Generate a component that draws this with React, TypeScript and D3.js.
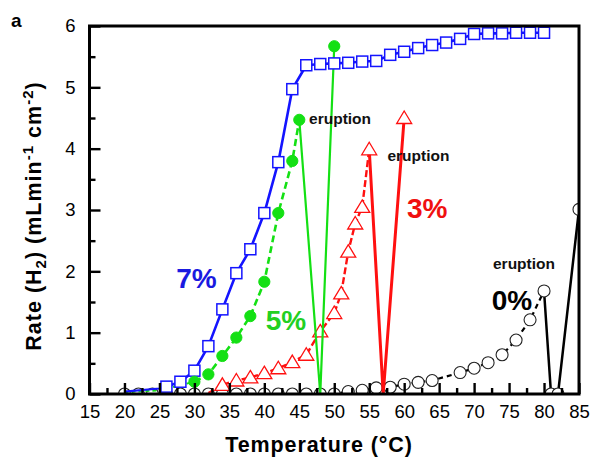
import React, { useEffect, useRef } from "react";
import * as d3 from "d3";

// axis ticks
const tempTicks = [15, 20, 25, 30, 35, 40, 45, 50, 55, 60, 65, 70, 75, 80, 85];
const tempMinor = [17.5, 22.5, 27.5, 32.5, 37.5, 42.5, 47.5, 52.5, 57.5, 62.5, 67.5, 72.5, 77.5, 82.5];
const rateTicks = [0, 1, 2, 3, 4, 5, 6];
const rateMinor = [0.5, 1.5, 2.5, 3.5, 4.5, 5.5];

// 7 % (open squares)
const t7Lead = [20, 25, 26];
const r7Lead = [0.04, 0.09, 0.12];
const t7 = [26, 28, 30, 32, 34, 36, 38, 40, 42, 44, 46, 48, 50, 52, 54, 56, 58, 60, 62, 64, 66, 68, 70, 72, 74, 76, 78, 80];
const r7 = [0.12, 0.2, 0.38, 0.78, 1.38, 1.97, 2.36, 2.95, 3.78, 4.97, 5.36, 5.38, 5.39, 5.4, 5.42, 5.43, 5.53, 5.58, 5.64, 5.69, 5.73, 5.79, 5.87, 5.88, 5.88, 5.89, 5.89, 5.89];

// 5 % (filled circles)
const t5Lead = [20, 25, 30];
const r5Lead = [0.03, 0.06, 0.2];
const t5 = [30, 32, 34, 36, 38, 40, 42, 44, 45];
const r5 = [0.2, 0.32, 0.62, 0.92, 1.27, 1.83, 2.95, 3.8, 4.47];
const t5Jump = [45, 48, 50];
const r5Jump = [4.47, 0, 5.67];

// 3 % (open triangles)
const t3Lead = [32, 34];
const r3Lead = [0.02, 0.15];
const t3 = [34, 36, 38, 40, 42, 44, 46, 48, 50, 51, 52, 53, 54, 55];
const r3 = [0.15, 0.22, 0.27, 0.34, 0.42, 0.52, 0.64, 1.02, 1.32, 1.64, 2.32, 2.78, 3.05, 3.99];
const t3Jump = [55, 57, 60];
const r3Jump = [3.99, 0, 4.5];

// 0 % (open circles)
const t0 = [20, 22, 24, 26, 28, 30, 32, 34, 36, 38, 40, 42, 44, 46, 48, 50, 52, 54, 56, 58, 60, 62, 64, 68, 70, 72, 74, 76, 78, 80];
const r0 = [0, 0, 0, 0, 0, 0, 0, 0, 0, 0, 0, 0, 0, 0, 0, 0, 0.04, 0.06, 0.1, 0.11, 0.16, 0.19, 0.22, 0.35, 0.42, 0.51, 0.64, 0.88, 1.21, 1.68];
const t0Jump = [80, 81, 82, 85];
const r0Jump = [1.68, 0, 0, 3.01];

const FONT = "'Liberation Sans', Arial, sans-serif";
const BLUE = "#1414ff";
const GREEN = "#14e014";
const RED = "#ff1010";

export default function App() {
  const ref = useRef<SVGSVGElement>(null);

  useEffect(() => {
    const svg = d3.select(ref.current);
    svg.selectAll("*").remove();

    const x = d3.scaleLinear().domain([15, 85]).range([89.5, 579]);
    const y = d3.scaleLinear().domain([0, 6]).range([394, 26]);

    const zip = (ts: number[], rs: number[]) => ts.map((t, i) => [t, rs[i]] as [number, number]);
    const line = d3.line<[number, number]>().x(d => x(d[0])).y(d => y(d[1]));

    svg.append("defs").append("clipPath").attr("id", "plotclip")
      .append("rect").attr("x", 89.5).attr("y", 26).attr("width", 579 - 89.5).attr("height", 394 - 26);

    const g = svg.append("g").attr("clip-path", "url(#plotclip)");

    const path = (pts: [number, number][], color: string, w: number, dash?: string) => {
      g.append("path").datum(pts).attr("d", line)
        .attr("fill", "none").attr("stroke", color).attr("stroke-width", w)
        .attr("stroke-linejoin", "round")
        .attr("stroke-dasharray", dash || null);
    };

    const circles = (pts: [number, number][], fill: string, stroke: string, r: number, sw: number) => {
      g.append("g").selectAll("circle").data(pts).join("circle")
        .attr("cx", d => x(d[0])).attr("cy", d => y(d[1])).attr("r", r)
        .attr("fill", fill).attr("stroke", stroke).attr("stroke-width", sw);
    };

    // 0 %
    path(zip(t0, r0), "#000", 2.2, "5,4");
    path(zip(t0Jump, r0Jump), "#000", 2.5);
    circles(zip(t0, r0).concat(zip(t0Jump, r0Jump).slice(1)), "#fff", "#222", 6, 1.1);

    // 3 %
    path(zip(t3Lead, r3Lead), RED, 2, "6,3");
    path(zip(t3, r3), RED, 2.4, "7,3");
    path(zip(t3Jump, r3Jump), RED, 3);
    g.append("g").selectAll("path").data(zip(t3, r3).concat(zip(t3Jump, r3Jump).slice(-1))).join("path")
      .attr("d", "M0,-7L7.5,5.5L-7.5,5.5Z")
      .attr("transform", d => `translate(${x(d[0])},${y(d[1])})`)
      .attr("fill", "#fff").attr("stroke", RED).attr("stroke-width", 1.3);

    // 5 %
    path(zip(t5Lead, r5Lead), GREEN, 2, "4,3");
    path(zip(t5, r5), GREEN, 2.6, "7,4");
    path(zip(t5Jump, r5Jump), GREEN, 2.2);

    // 7 %
    path(zip(t7Lead, r7Lead), BLUE, 2.2);
    path(zip(t7, r7), BLUE, 2.6);
    g.append("g").selectAll("rect").data(zip(t7, r7)).join("rect")
      .attr("x", d => x(d[0]) - 5.5).attr("y", d => y(d[1]) - 5.5)
      .attr("width", 11).attr("height", 11)
      .attr("fill", "#fff").attr("stroke", BLUE).attr("stroke-width", 1.5);

    circles(zip(t5, r5).concat(zip(t5Jump, r5Jump).slice(-1)), GREEN, GREEN, 5.6, 1);

    // axes, ticks pointing inward
    const yAxis = svg.append("g").attr("transform", "translate(89.5,0)")
      .call(d3.axisLeft(y).tickValues(rateTicks).tickSizeInner(-11).tickSizeOuter(0).tickPadding(14).tickFormat(d3.format("d")));
    svg.append("g").attr("transform", "translate(89.5,0)")
      .call(d3.axisLeft(y).tickValues(rateMinor).tickSizeInner(-6).tickSizeOuter(0).tickFormat(() => ""));
    const xAxis = svg.append("g").attr("transform", "translate(0,394)")
      .call(d3.axisBottom(x).tickValues(tempTicks).tickSizeInner(-11).tickSizeOuter(0).tickPadding(11).tickFormat(d3.format("d")));
    svg.append("g").attr("transform", "translate(0,394)")
      .call(d3.axisBottom(x).tickValues(tempMinor).tickSizeInner(-6).tickSizeOuter(0).tickFormat(() => ""));

    svg.selectAll(".domain").remove();
    svg.selectAll(".tick line").attr("stroke", "#000").attr("stroke-width", 2.4);
    [yAxis, xAxis].forEach(a => a.selectAll("text")
      .attr("font-family", FONT).attr("font-size", 18.5).attr("fill", "#000"));

    // frame
    svg.append("rect").attr("x", 89.5).attr("y", 26).attr("width", 579 - 89.5).attr("height", 394 - 26)
      .attr("fill", "none").attr("stroke", "#000").attr("stroke-width", 3);

    // series labels
    const label = (txt: string, tx: number, ry: number, color: string) =>
      svg.append("text").attr("x", x(tx)).attr("y", y(ry)).attr("dy", "0.36em")
        .attr("text-anchor", "middle").attr("font-family", FONT).attr("font-weight", "bold")
        .attr("font-size", 28).attr("fill", color).text(txt);
    label("7%", 30.3, 1.89, "#1a1ae0");
    label("5%", 43.1, 1.21, "#22d022");
    label("3%", 63.3, 3.03, "#f01010");
    label("0%", 75.4, 1.53, "#000");

    const erupt = (tx: number, ry: number) =>
      svg.append("text").attr("x", x(tx)).attr("y", y(ry)).attr("dy", "0.3em")
        .attr("font-family", FONT).attr("font-weight", "bold").attr("font-size", 15.5)
        .attr("fill", "#111").text("eruption");
    erupt(46.4, 4.48);
    erupt(57.6, 3.88);
    erupt(72.7, 2.12);

    // axis titles
    svg.append("text").attr("x", 319).attr("y", 452).attr("text-anchor", "middle")
      .attr("font-family", FONT).attr("font-weight", "bold").attr("font-size", 21.5)
      .attr("letter-spacing", 0.9).text("Temperature (°C)");

    const yt = svg.append("text").attr("transform", "translate(41,216) rotate(-90)")
      .attr("text-anchor", "middle").attr("font-family", FONT).attr("font-weight", "bold")
      .attr("font-size", 21.5).attr("letter-spacing", 1);
    yt.append("tspan").text("Rate (H");
    yt.append("tspan").attr("font-size", 15).attr("dy", 5).text("2");
    yt.append("tspan").attr("dy", -5).text(") (mLmin");
    yt.append("tspan").attr("font-size", 15).attr("dy", -8).text("-1");
    yt.append("tspan").attr("dy", 8).text(" cm");
    yt.append("tspan").attr("font-size", 15).attr("dy", -8).text("-2");
    yt.append("tspan").attr("dy", 8).text(")");

    svg.append("text").attr("x", 11).attr("y", 27).attr("font-family", FONT)
      .attr("font-weight", "bold").attr("font-size", 19).text("a");
  }, []);

  return <svg ref={ref} width={592} height={466}
    style={{ position: "absolute", left: 0, top: 0, background: "#fff" }} />;
}
